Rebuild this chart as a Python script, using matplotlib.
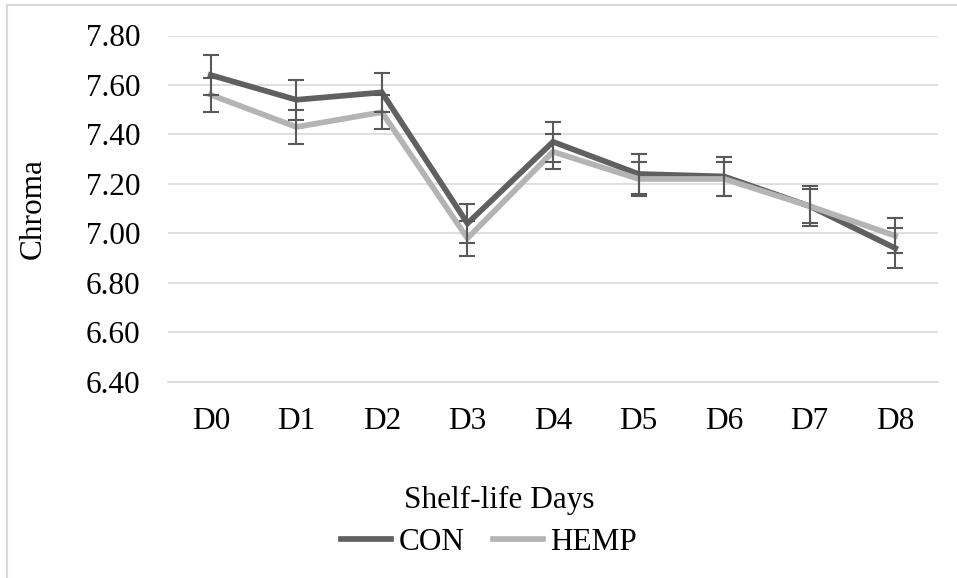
import matplotlib
matplotlib.use("Agg")
import matplotlib.pyplot as plt
from matplotlib.patches import Rectangle

days = ["D0", "D1", "D2", "D3", "D4", "D5", "D6", "D7", "D8"]
con = [7.64, 7.54, 7.57, 7.04, 7.37, 7.24, 7.23, 7.11, 6.94]
hemp = [7.56, 7.43, 7.49, 6.98, 7.33, 7.22, 7.22, 7.11, 6.99]
con_err = [0.08, 0.08, 0.08, 0.08, 0.08, 0.08, 0.08, 0.08, 0.08]
hemp_err = [0.07, 0.07, 0.07, 0.07, 0.07, 0.07, 0.07, 0.07, 0.07]
y_ticks = [6.40, 6.60, 6.80, 7.00, 7.20, 7.40, 7.60, 7.80]

plt.rcParams["font.family"] = ["Liberation Serif", "DejaVu Serif"]
W, H = 957, 578
fig = plt.figure(figsize=(W / 100, H / 100), dpi=100)
ax = fig.add_axes([168 / W, 1 - 381.7 / H, (938 - 168) / W, (381.7 - 35.5) / H])

x = list(range(len(days)))

# lines
ax.plot(x, con, color="#606060", lw=4.1, solid_joinstyle="miter", label="CON", zorder=3)
ax.plot(x, hemp, color="#b4b4b4", lw=4.1, solid_joinstyle="miter", label="HEMP", zorder=4)

# error bars (both in dark grey)
ax.errorbar(x, con, yerr=con_err, fmt="none", ecolor="#595959", elinewidth=1.5,
            capsize=5.5, capthick=1.5, zorder=5)
ax.errorbar(x, hemp, yerr=hemp_err, fmt="none", ecolor="#595959", elinewidth=1.5,
            capsize=5.5, capthick=1.5, zorder=5)

ax.set_xlim(-0.5, len(days) - 0.5)
ax.set_ylim(6.40, 7.80)
ax.set_yticks(y_ticks)
ax.set_yticklabels([f"{v:.2f}" for v in y_ticks])
ax.set_xticks(x)
ax.set_xticklabels(days)
ax.tick_params(axis="both", length=0, labelsize=22.5)
ax.tick_params(axis="y", pad=20)
ax.tick_params(axis="x", pad=18)
ax.grid(axis="y", color="#d9d9d9", lw=1.2)
ax.set_axisbelow(True)
for s in ["top", "right", "left"]:
    ax.spines[s].set_visible(False)
ax.spines["bottom"].set_color("#d9d9d9")
ax.spines["bottom"].set_linewidth(1.2)

fig.text(33 / W, 1 - 208.6 / H, "Chroma", rotation=90, ha="center", va="center", fontsize=22.5)
fig.text(499 / W, 1 - 500 / H, "Shelf-life Days", ha="center", va="center", fontsize=22.5)

fig.legend(loc="center", bbox_to_anchor=(489 / W, 1 - 542 / H), ncol=2, frameon=False,
           fontsize=22.5, handlelength=1.6, handletextpad=0.25, columnspacing=0.9)

# outer chart border
fig.patches.append(Rectangle((7 / W, -0.05), 1.1, 1.05 - 5 / H, transform=fig.transFigure,
                             fill=False, edgecolor="#d9d9d9", lw=1.5))

fig.savefig("out.png", dpi=100)
